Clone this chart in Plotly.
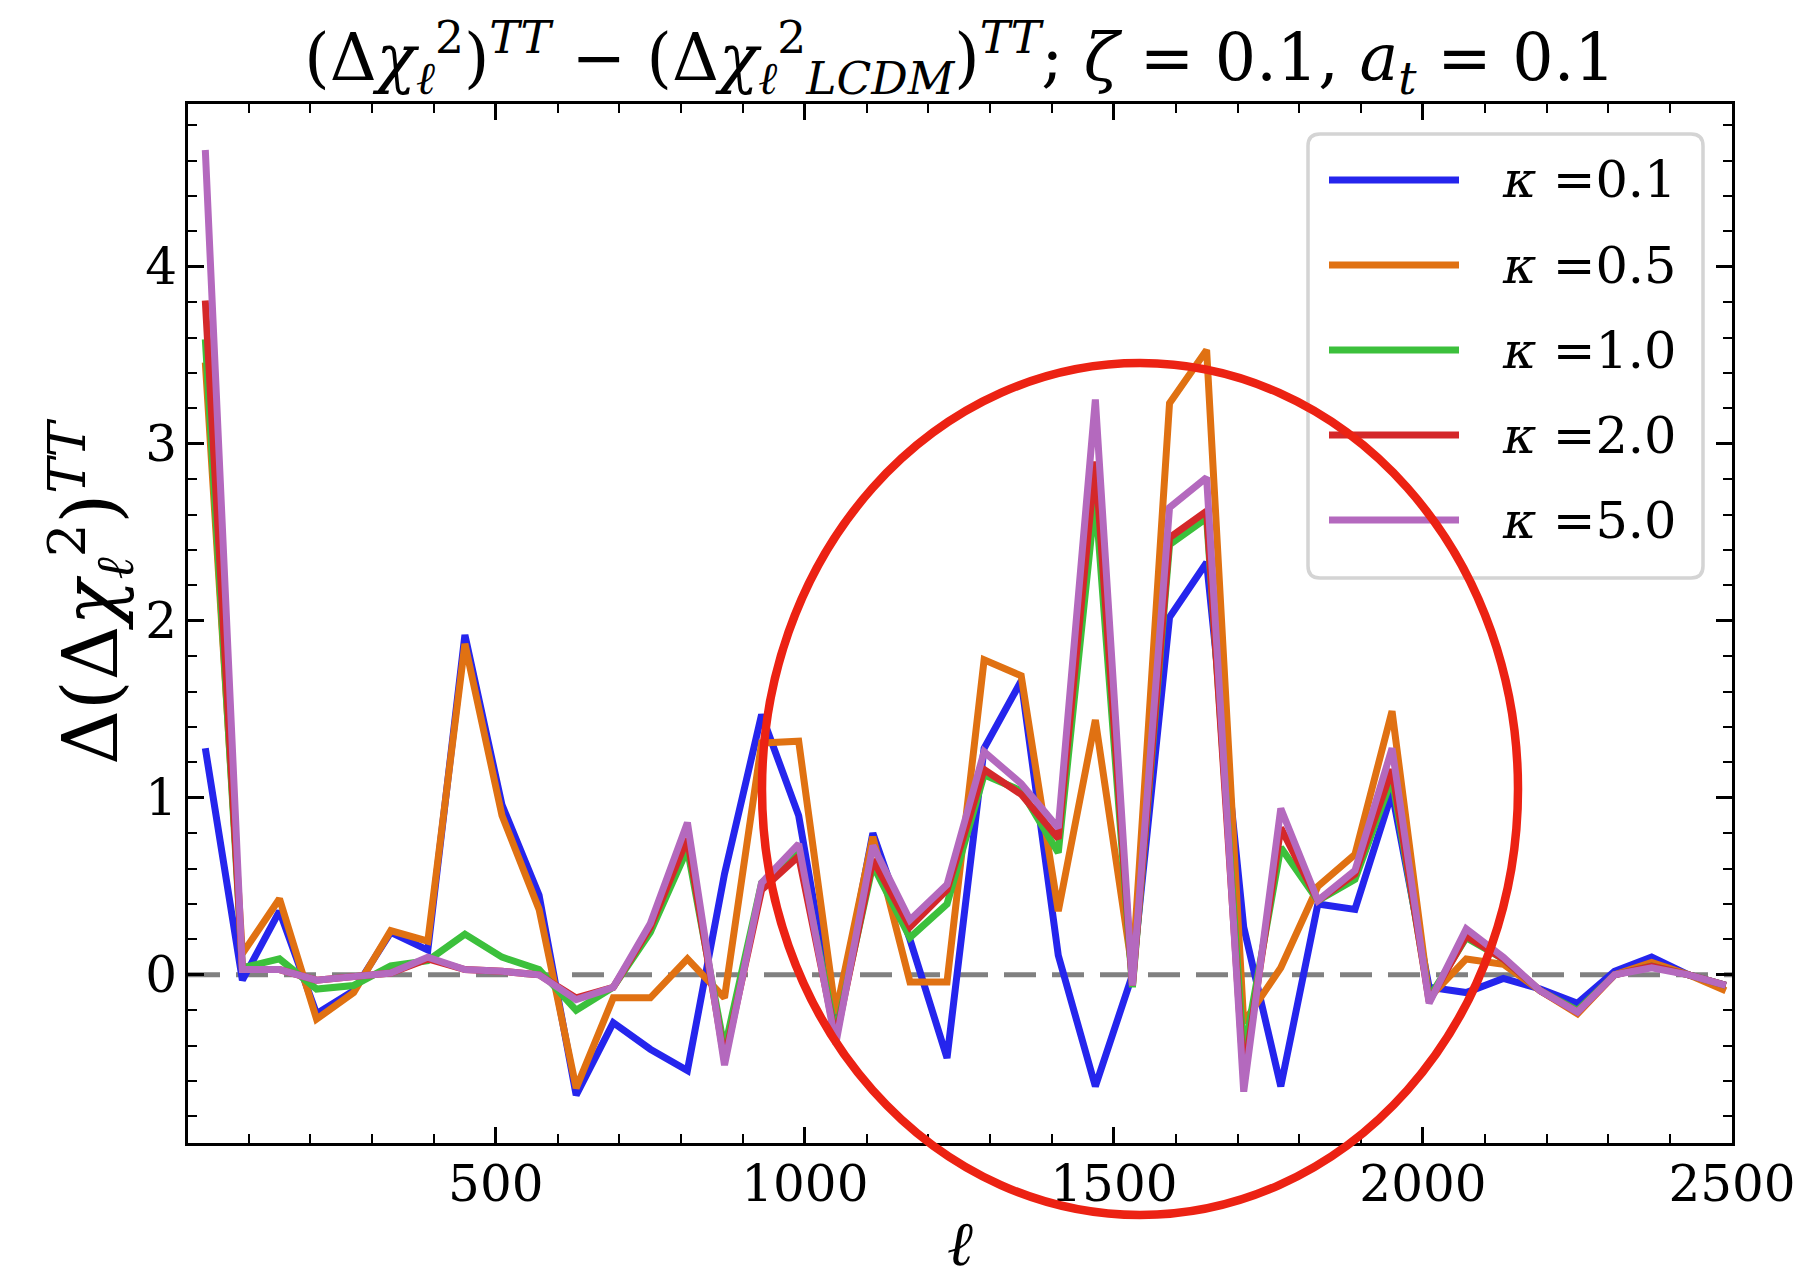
import plotly.graph_objects as go

# ---------------- data ----------------
ell = [30, 90, 150, 210, 270, 330, 390, 450, 510, 570, 630, 690, 750, 810,
       870, 930, 990, 1050, 1110, 1170, 1230, 1290, 1350, 1410, 1470, 1530,
       1590, 1650, 1710, 1770, 1830, 1890, 1950, 2010, 2070, 2130, 2190,
       2250, 2310, 2370, 2430, 2490]

kappa_01 = [1.28, -0.03, 0.36, -0.22, -0.09, 0.24, 0.14, 1.92, 0.96, 0.45,
            -0.68, -0.27, -0.42, -0.54, 0.57, 1.47, 0.90, -0.30, 0.80, 0.20,
            -0.47, 1.28, 1.66, 0.11, -0.63, 0.00, 2.02, 2.33, 0.27, -0.63,
            0.40, 0.37, 1.03, -0.07, -0.10, -0.02, -0.08, -0.16, 0.02, 0.10,
            0.00, -0.06]

kappa_05 = [3.46, 0.12, 0.43, -0.25, -0.10, 0.25, 0.19, 1.87, 0.90, 0.37,
            -0.64, -0.13, -0.13, 0.09, -0.13, 1.31, 1.32, -0.22, 0.78, -0.04,
            -0.04, 1.78, 1.69, 0.36, 1.44, 0.02, 3.23, 3.53, -0.27, 0.04,
            0.50, 0.68, 1.49, -0.13, 0.09, 0.06, -0.09, -0.22, 0.00, 0.07,
            0.00, -0.09]

kappa_10 = [3.59, 0.04, 0.09, -0.08, -0.06, 0.05, 0.08, 0.23, 0.10, 0.03,
            -0.20, -0.07, 0.24, 0.71, -0.42, 0.52, 0.70, -0.33, 0.62, 0.21,
            0.40, 1.13, 1.04, 0.69, 2.70, -0.07, 2.43, 2.58, -0.45, 0.72,
            0.42, 0.54, 1.11, -0.13, 0.21, 0.09, -0.09, -0.20, 0.00, 0.05,
            0.00, -0.06]

kappa_20 = [3.81, 0.03, 0.03, -0.03, -0.01, 0.01, 0.09, 0.03, 0.02, 0.00,
            -0.13, -0.07, 0.27, 0.77, -0.48, 0.48, 0.67, -0.36, 0.65, 0.27,
            0.48, 1.16, 1.02, 0.77, 2.90, -0.06, 2.47, 2.62, -0.58, 0.83,
            0.42, 0.57, 1.16, -0.15, 0.22, 0.09, -0.09, -0.21, 0.00, 0.05,
            0.00, -0.06]

kappa_50 = [4.66, 0.03, 0.03, -0.03, -0.01, 0.01, 0.10, 0.03, 0.02, 0.00,
            -0.14, -0.07, 0.29, 0.86, -0.51, 0.52, 0.74, -0.39, 0.73, 0.31,
            0.51, 1.26, 1.08, 0.83, 3.25, -0.06, 2.64, 2.81, -0.66, 0.94,
            0.42, 0.59, 1.28, -0.16, 0.26, 0.10, -0.09, -0.21, 0.00, 0.04,
            0.00, -0.06]

series_labels = ["0.1", "0.5", "1.0", "2.0", "5.0"]
series_values = [kappa_01, kappa_05, kappa_10, kappa_20, kappa_50]
series_colors = ["#2525ED", "#E07112", "#3CC03C", "#D4282A", "#B469BE"]

x_ticks = [500, 1000, 1500, 2000, 2500]
y_ticks = [0, 1, 2, 3, 4]

# ---------------- layout geometry (pixels) ----------------
W, H = 1819, 1280
L, R, T, B = 188, 87, 104, 137
PW, PH = W - L - R, H - T - B


def px(xp):
    return (xp - L) / PW


def py(yp):
    return (H - B - yp) / PH


FONT = "DejaVu Serif"
LW = 7
fig = go.Figure()

for lab, vals, col in zip(series_labels, series_values, series_colors):
    fig.add_trace(go.Scatter(
        x=ell, y=vals, mode="lines", name=f"<i>κ</i> ={lab}",
        line=dict(color=col, width=LW), showlegend=False,
    ))

fig.add_hline(y=0, line=dict(color="#808080", width=5, dash="32px,16px"),
              layer="below")

# ---- legend box (matplotlib-style, drawn as shapes + text) ----
bx0, bx1, by0, by1, rr = 1308, 1703, 134, 578, 12
path = (f"M {px(bx0+rr)},{py(by0)} L {px(bx1-rr)},{py(by0)} "
        f"Q {px(bx1)},{py(by0)} {px(bx1)},{py(by0+rr)} "
        f"L {px(bx1)},{py(by1-rr)} Q {px(bx1)},{py(by1)} {px(bx1-rr)},{py(by1)} "
        f"L {px(bx0+rr)},{py(by1)} Q {px(bx0)},{py(by1)} {px(bx0)},{py(by1-rr)} "
        f"L {px(bx0)},{py(by0+rr)} Q {px(bx0)},{py(by0)} {px(bx0+rr)},{py(by0)} Z")
fig.add_shape(type="path", xref="paper", yref="paper", path=path,
              fillcolor="rgba(255,255,255,0.85)",
              line=dict(color="#D4D4D4", width=3.5), layer="above")

entry_y = [180, 265, 350, 435, 520]
for lab, col, ey in zip(series_labels, series_colors, entry_y):
    fig.add_shape(type="line", xref="paper", yref="paper",
                  x0=px(1329), x1=px(1459), y0=py(ey), y1=py(ey),
                  line=dict(color=col, width=LW), layer="above")
    fig.add_annotation(xref="paper", yref="paper", x=px(1500), y=py(ey),
                       xanchor="left", yanchor="middle", showarrow=False,
                       text=f"<i>κ</i> =" + lab,
                       font=dict(family=FONT, size=51, color="black"))

# red hand-drawn ellipse highlight (paper coordinates)
fig.add_shape(type="circle", xref="paper", yref="paper",
              x0=px(762), x1=px(1518), y0=py(1215), y1=py(363),
              line=dict(color="#EC2213", width=8.5), layer="above")

# y-axis title as a rotated annotation (placed like matplotlib's label)
fig.add_annotation(xref="paper", yref="paper", x=px(91), y=py(592),
                   xanchor="center", yanchor="middle", showarrow=False,
                   textangle=-90,
                   text="Δ(Δ<i>χ</i><sub><i>ℓ</i></sub><sup>2</sup>)<sup><i>TT</i></sup>",
                   font=dict(family=FONT, size=76, color="black"))

axis_common = dict(
    showline=True, linecolor="black", linewidth=3, mirror="allticks",
    ticks="inside", ticklen=16, tickwidth=2.5, tickcolor="black",
    showgrid=False, zeroline=False, automargin=False,
    tickfont=dict(family=FONT, size=50, color="black"),
)

fig.update_xaxes(
    range=[2, 2500], tickvals=x_ticks,
    minor=dict(dtick=100, tick0=0, ticks="inside", ticklen=9,
               tickwidth=2, tickcolor="black"),
    title=dict(text="<i>ℓ</i>", font=dict(family=FONT, size=62, color="black"),
               standoff=38),
    ticklabelstandoff=-5,
    **axis_common,
)
fig.update_yaxes(
    range=[-0.95, 4.92], tickvals=y_ticks,
    minor=dict(dtick=0.2, tick0=0, ticks="inside", ticklen=9,
               tickwidth=2, tickcolor="black"),
    ticklabelstandoff=-2,
    **axis_common,
)

fig.update_layout(
    width=W, height=H,
    margin=dict(l=L, r=R, t=T, b=B),
    paper_bgcolor="white", plot_bgcolor="white",
    title=dict(
        text=("(Δ<i>χ</i><sub><i>ℓ</i></sub><sup>2</sup>)<sup><i>TT</i></sup>"
              " − (Δ<i>χ</i><sub><i>ℓ</i></sub><sup>2</sup><sub><i>LCDM</i></sub>)"
              "<sup><i>TT</i></sup>; <i>ζ</i> = 0.1, <i>a</i><sub><i>t</i></sub> = 0.1"),
        font=dict(family=FONT, size=65, color="black"),
        x=(L + PW / 2) / W, xanchor="center", y=0.955, yanchor="middle",
    ),
    showlegend=False,
)

fig.write_html("out.html", include_plotlyjs=True,
               config=dict(displayModeBar=False),
               post_script="document.body.style.margin='0';")
